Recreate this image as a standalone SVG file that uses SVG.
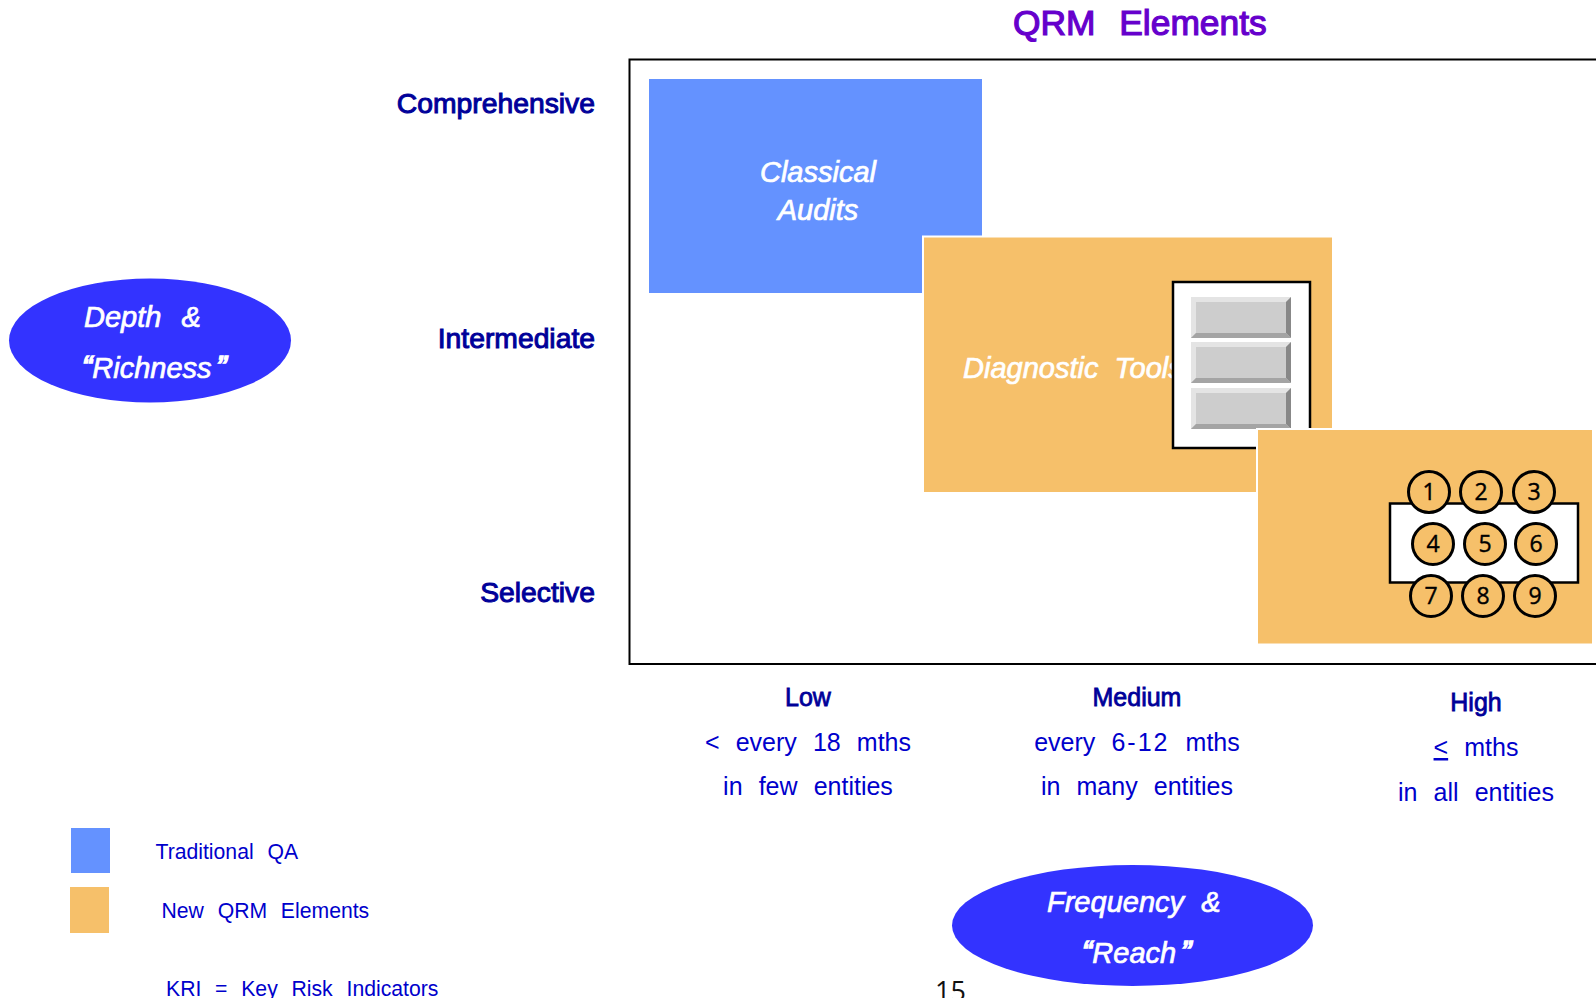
<svg xmlns="http://www.w3.org/2000/svg" width="1596" height="998" viewBox="0 0 1596 998">
<style>
text{font-family:"Liberation Sans",Arial,sans-serif;white-space:pre}
.ax{font-size:28.300px;fill:#000099;stroke:#000099;stroke-width:1px;text-anchor:end}
.hd{font-size:25px;fill:#000099;stroke:#000099;stroke-width:.8px;text-anchor:middle}
.sub{font-size:25px;fill:#0000cc;text-anchor:middle;word-spacing:1.100px}
.lg{font-size:21.200px;fill:#0000cc;word-spacing:1px}
.wh{font-size:29px;font-style:italic;fill:#fff;stroke:#fff;stroke-width:.7px}
.q{stroke-width:1.500px;font-size:31px}
.org{fill:#f6c06a;stroke:#fff;stroke-width:2px}
.num{font-family:"Open Sans",sans-serif;font-size:23px;fill:#000;stroke:#000;stroke-width:.4px;text-anchor:middle}
.c{fill:#f6c06a;stroke:#000;stroke-width:3px}
</style>
<defs>
<g id="btn">
<rect width="100" height="41" fill="#cdcdcd"/>
<path d="M0 0H100L95 5H5V36L0 41Z" fill="#e4e4e4"/>
<path d="M100 0V41L95 36V5Z" fill="#888"/>
<path d="M0 41H100L95 36H5Z" fill="#a4a4a4"/>
</g>
</defs>
<g id="title"><text x="1013" y="35" font-size="35.400" fill="#6600cc" stroke="#6600cc" stroke-width="1.200" word-spacing="2">QRM  Elements</text></g>
<g id="frame"><rect x="629.500" y="59.500" width="1000" height="604.500" fill="#fff" stroke="#000" stroke-width="2"/></g>
<g id="connectors"/>
<g id="axis-y">
<text class="ax" x="595" y="113">Comprehensive</text>
<text class="ax" x="595" y="348">Intermediate</text>
<text class="ax" x="595" y="602">Selective</text>
</g>
<g id="classical-audits">
<rect x="649" y="79" width="333" height="214" fill="#6492ff"/>
<text class="wh" x="818" y="182" text-anchor="middle">Classical</text>
<text class="wh" x="818" y="220" text-anchor="middle">Audits</text>
</g>
<g id="diagnostic-tools">
<rect class="org" x="923" y="236.500" width="410" height="256.500"/>
<text class="wh" x="963" y="378">Diagnostic  Tools</text>
<rect x="1173" y="282" width="137" height="166" fill="#fff" stroke="#000" stroke-width="2.500"/>
<use href="#btn" x="1191" y="297"/>
<use href="#btn" x="1191" y="342"/>
<use href="#btn" x="1191" y="388"/>
</g>
<g id="kri-panel">
<rect class="org" x="1257" y="429" width="336" height="215.500"/>
<rect x="1390" y="503.500" width="188" height="79" fill="#fff" stroke="#000" stroke-width="2.500"/>
<circle class="c" cx="1429" cy="492" r="20.500"/><text class="num" x="1429" y="500">1</text>
<circle class="c" cx="1481" cy="492" r="20.500"/><text class="num" x="1481" y="500">2</text>
<circle class="c" cx="1534" cy="492" r="20.500"/><text class="num" x="1534" y="500">3</text>
<circle class="c" cx="1433" cy="544" r="20.500"/><text class="num" x="1433" y="552">4</text>
<circle class="c" cx="1485" cy="544" r="20.500"/><text class="num" x="1485" y="552">5</text>
<circle class="c" cx="1536" cy="544" r="20.500"/><text class="num" x="1536" y="552">6</text>
<circle class="c" cx="1431" cy="596" r="20.500"/><text class="num" x="1431" y="604">7</text>
<circle class="c" cx="1483" cy="596" r="20.500"/><text class="num" x="1483" y="604">8</text>
<circle class="c" cx="1535" cy="596" r="20.500"/><text class="num" x="1535" y="604">9</text>
</g>
<g id="depth-richness">
<ellipse cx="150" cy="340.500" rx="141" ry="62" fill="#3333ff"/>
<text class="wh" x="84" y="327" word-spacing="2">Depth  &amp;</text>
<text class="wh" x="82" y="378"><tspan class="q">“</tspan>Richness<tspan class="q" dx="5">”</tspan></text>
</g>
<g id="frequency-reach">
<ellipse cx="1132.500" cy="925.500" rx="180.500" ry="60.500" fill="#3333ff"/>
<text class="wh" x="1047" y="912" word-spacing=".5">Frequency  &amp;</text>
<text class="wh" x="1082" y="963"><tspan class="q">“</tspan>Reach<tspan class="q" dx="5">”</tspan></text>
</g>
<g id="axis-x">
<text class="hd" x="808" y="706">Low</text>
<text class="sub" x="808" y="751">&lt;  every  18  mths</text>
<text class="sub" x="808" y="795">in  few  entities</text>
<text class="hd" x="1137" y="706">Medium</text>
<text class="sub" x="1137" y="751">every  <tspan letter-spacing="2">6-12</tspan>  mths</text>
<text class="sub" x="1137" y="795">in  many  entities</text>
<text class="hd" x="1476" y="711">High</text>
<text class="sub" x="1476" y="756" word-spacing="3"><tspan text-decoration="underline">&lt;</tspan>  mths</text>
<text class="sub" x="1476" y="801">in  all  entities</text>
</g>
<g id="legend">
<rect x="71" y="828" width="39" height="45" fill="#6492ff"/>
<rect x="70" y="887" width="39" height="46" fill="#f6c06a"/>
<text class="lg" x="155.500" y="859">Traditional  QA</text>
<text class="lg" x="161.500" y="918">New  QRM  Elements</text>
<text class="lg" x="166" y="996">KRI  =  Key  Risk  Indicators</text>
</g>
<g id="page-number"><text x="935" y="1001" font-size="27" style="font-family:'Open Sans',sans-serif" fill="#111">15</text></g>
</svg>
